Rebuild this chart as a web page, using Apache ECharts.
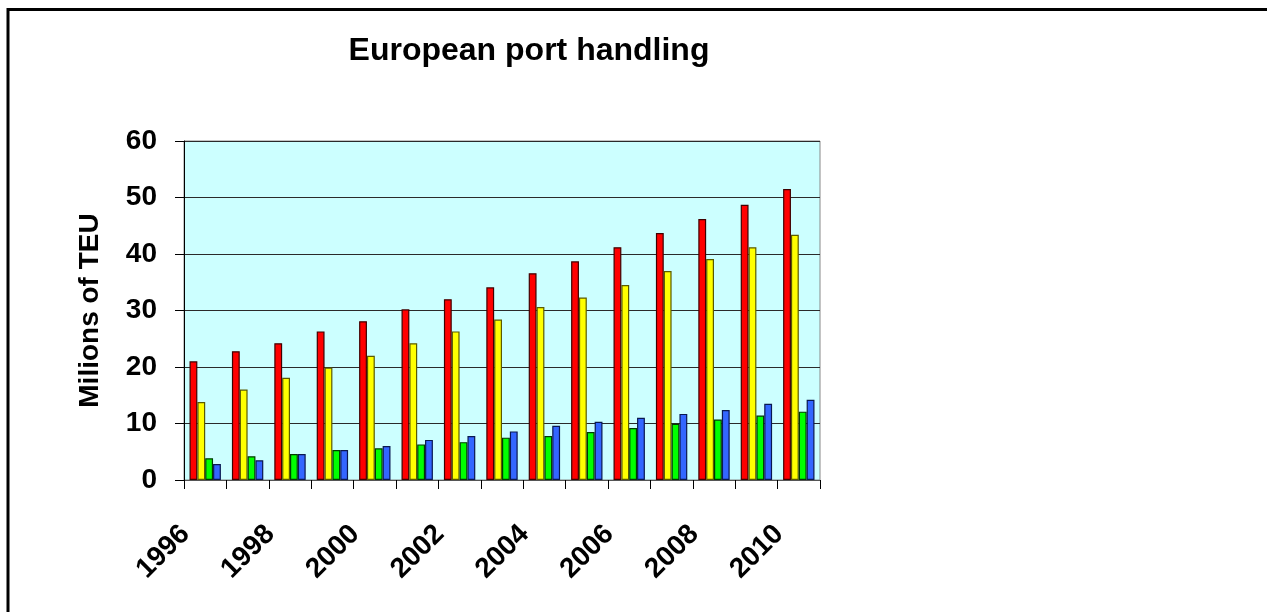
<!DOCTYPE html>
<html>
<head>
<meta charset="utf-8">
<script src="https://cdn.jsdelivr.net/npm/echarts@6/dist/echarts.min.js"></script>
<style>
html,body{margin:0;padding:0;background:#fff;}
#chart{width:1267px;height:612px;}
</style>
</head>
<body>
<div id="chart"></div>
<script>
var years = ['1996','1997','1998','1999','2000','2001','2002','2003','2004','2005','2006','2007','2008','2009','2010'];
var seriesRed    = [21.0, 22.8, 24.2, 26.3, 28.1, 30.2, 32.0, 34.1, 36.6, 38.7, 41.2, 43.7, 46.2, 48.7, 51.5];
var seriesYellow = [13.8, 16.0, 18.1, 19.9, 22.0, 24.2, 26.3, 28.4, 30.6, 32.3, 34.5, 37.0, 39.1, 41.2, 43.4];
var seriesGreen  = [3.85, 4.2, 4.6, 5.3, 5.6, 6.3, 6.7, 7.5, 7.8, 8.5, 9.2, 9.95, 10.7, 11.4, 12.1];
var seriesBlue   = [2.84, 3.5, 4.6, 5.3, 6.0, 7.1, 7.8, 8.6, 9.6, 10.3, 11.0, 11.7, 12.4, 13.5, 14.2];
var yTicks = [0, 10, 20, 30, 40, 50, 60];

var FONT = '"Liberation Sans", Arial, sans-serif';
var chart = echarts.init(document.getElementById('chart'), null, {renderer: 'canvas'});

function bar(name, data, color, border) {
  return {
    name: name, type: 'bar', data: data,
    barGap: '0%', barCategoryGap: '26%',
    itemStyle: {color: color, borderColor: border, borderWidth: 1.2},
    emphasis: {disabled: true}
  };
}

chart.setOption({
  backgroundColor: '#ffffff',
  animation: false,
  title: {
    text: 'European port handling',
    left: 529, top: 35, padding: 0,
    textAlign: 'center',
    textStyle: {fontFamily: FONT, fontWeight: 'bold', fontSize: 32, color: '#000'}
  },
  graphic: [{
    type: 'rect', silent: true,
    shape: {x: 8, y: 9.5, width: 1400, height: 800},
    style: {fill: 'none', stroke: '#000', lineWidth: 3}
  }],
  grid: {
    left: 184, right: 447, top: 141, bottom: 132,
    show: true, backgroundColor: '#CCFFFF', borderColor: '#888', borderWidth: 1,
    containLabel: false
  },
  xAxis: {
    type: 'category', data: years, boundaryGap: true,
    axisLine: {show: true, lineStyle: {color: '#555', width: 1}},
    axisTick: {show: true, interval: 0, length: 9, inside: false, lineStyle: {color: '#000'}},
    axisLabel: {
      interval: 1, rotate: 45, margin: 30, padding: [0, 28, 0, 0],
      fontFamily: FONT, fontWeight: 'bold', fontSize: 28, color: '#000'
    },
    splitLine: {show: false}
  },
  yAxis: {
    type: 'value', min: yTicks[0], max: yTicks[yTicks.length - 1], interval: 10,
    name: 'Milions of TEU', nameLocation: 'middle', nameGap: 80, nameRotate: 90,
    nameTextStyle: {fontFamily: FONT, fontWeight: 'bold', fontSize: 28, color: '#000'},
    axisLine: {show: true, lineStyle: {color: '#000', width: 1}},
    axisTick: {show: true, length: 9, inside: false, lineStyle: {color: '#000'}},
    axisLabel: {margin: 27, fontFamily: FONT, fontWeight: 'bold', fontSize: 28, color: '#000'},
    splitLine: {show: true, lineStyle: {color: '#2a2a2a', width: 1.2}}
  },
  series: [
    bar('Series 1', seriesRed, '#FF0000', '#400000'),
    bar('Series 2', seriesYellow, '#FFFF00', '#5a5a00'),
    bar('Series 3', seriesGreen, '#00FF00', '#003a00'),
    bar('Series 4', seriesBlue, '#3366FF', '#0a1850')
  ]
});
</script>
</body>
</html>
